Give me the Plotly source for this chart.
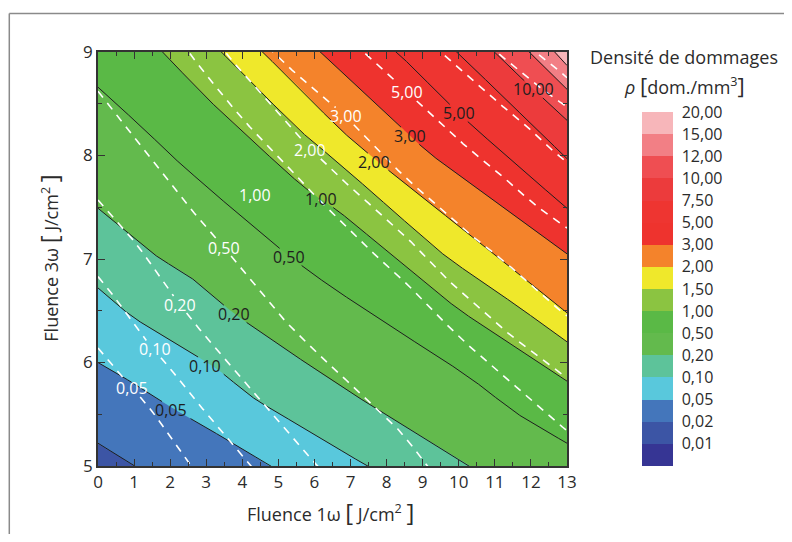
import numpy as np
import plotly.graph_objects as go

# ---------------- data ----------------
LEVELS = [0, 0.01, 0.02, 0.05, 0.1, 0.2, 0.5, 1, 1.5, 2, 3, 5, 7.5, 10, 12, 15, 20]
LEVEL_TEXT = ["0,01", "0,02", "0,05", "0,10", "0,20", "0,50", "1,00", "1,50",
              "2,00", "3,00", "5,00", "7,50", "10,00", "12,00", "15,00", "20,00"]
BAND_COLORS = ["#363594", "#3C55A5", "#4476BB", "#59C8DC", "#5DC39A", "#63BA4D",
               "#5AB946", "#8BC441", "#EFE82B", "#F4832B", "#EE332E", "#EE3531",
               "#EC3B3C", "#EF4E52", "#F27F85", "#F7B6BA"]

# black (solid) iso-density lines: (fluence 1w, fluence 3w) points
BLACK_0_02 = [(0, 5.22), (1.03, 5.0), (13, 2.4)]
BLACK_0_05 = [(0, 6.0), (0.8, 5.84), (1.64, 5.65), (2.5, 5.47), (3.8, 5.21), (4.75, 5.0), (13, 3.3)]
BLACK_0_1 = [(0, 6.72), (0.85, 6.46), (1.77, 6.26), (2.7, 6.07), (3.44, 5.91), (4.17, 5.68),
             (5.1, 5.49), (6.5, 5.2), (7.46, 5.0), (13, 3.9)]
BLACK_0_2 = [(0, 7.49), (1.73, 6.99), (2.47, 6.86), (3.76, 6.47), (4.17, 6.375), (6.5, 5.82),
             (7.64, 5.57), (10.32, 5.0), (13, 4.4)]
BLACK_0_5 = [(0, 8.66), (1.45, 8.2), (2.05, 7.99), (3.67, 7.5), (5.0, 7.11), (5.7, 6.92),
             (6.5, 6.72), (8.2, 6.33), (10.3, 5.86), (11.61, 5.5), (13, 5.22)]
BLACK_1 = [(0, 9.62), (1.8, 9.0), (2.93, 8.58), (4.22, 8.16), (5.8, 7.66), (6.62, 7.48),
           (8.1, 7.05), (9.95, 6.52), (13, 5.82)]
BLACK_1_5 = [(0, 10.2), (3.44, 9.0), (4.5, 8.62), (5.61, 8.23), (6.6, 7.95), (9.6, 7.03),
             (11.61, 6.55), (13, 6.2)]
BLACK_2 = [(0, 10.55), (4.55, 9.0), (5.61, 8.65), (6.6, 8.28), (8.0, 7.87), (10.5, 7.18), (13, 6.48)]
BLACK_3 = [(0, 11.0), (6.16, 9.0), (8.66, 8.19), (9.02, 8.06), (13, 7.05)]
BLACK_5 = [(0, 11.6), (8.29, 9.0), (9.67, 8.52), (10.23, 8.33), (12.0, 7.79), (13, 7.49)]
BLACK_7_5 = [(0, 12.3), (9.95, 9.0), (13, 7.97)]
BLACK_10 = [(0, 12.7), (10.96, 9.0), (12.07, 8.64), (12.35, 8.55), (13, 8.34)]
BLACK_12 = [(0, 13.1), (11.98, 9.0), (13, 8.64)]
BLACK_15 = [(0, 13.8), (12.65, 9.0), (13, 8.87)]
BLACK_LINE_LEVELS = [0.02, 0.05, 0.1, 0.2, 0.5, 1, 1.5, 2, 3, 5, 7.5, 10, 12, 15]

# white (dashed) iso-density lines
DASH_0_05 = [(0, 6.14), (0.94, 5.75), (1.4, 5.59), (2.55, 5.0), (3.0, 4.8)]
DASH_0_1 = [(0, 6.83), (0.66, 6.55), (1.13, 6.29), (1.87, 6.0), (2.97, 5.52), (4.27, 5.0), (4.6, 4.85)]
DASH_0_2 = [(0, 7.57), (1.17, 7.11), (1.68, 6.84), (2.26, 6.56), (2.88, 6.29), (4.55, 5.62),
            (5.47, 5.23), (6.1, 5.0), (6.4, 4.88)]
DASH_0_5 = [(0, 8.62), (0.94, 8.2), (1.54, 7.94), (2.47, 7.52), (3.5, 7.11), (5.19, 6.39),
            (6.53, 5.94), (7.64, 5.59), (8.47, 5.31), (9.12, 5.0), (9.4, 4.88)]
DASH_1 = [(2.3, 9.1), (2.56, 8.97), (3.76, 8.45), (4.5, 8.16), (5.24, 7.91), (5.79, 7.68),
          (6.44, 7.47), (7.55, 7.08), (8.66, 6.73), (9.67, 6.36), (10.5, 6.09), (11.61, 5.76),
          (12.72, 5.42), (13, 5.34)]
DASH_2 = [(3.3, 9.1), (3.53, 8.99), (4.22, 8.71), (4.87, 8.47), (5.42, 8.23), (6.25, 7.94),
          (7.0, 7.69), (7.73, 7.47), (8.66, 7.18), (9.49, 6.86), (11.15, 6.34), (12.72, 5.92), (13, 5.85)]
DASH_3 = [(4.7, 9.05), (4.91, 8.97), (5.65, 8.74), (6.3, 8.55), (6.87, 8.38), (8.29, 7.86),
          (9.02, 7.63), (10.5, 7.18), (11.24, 6.99), (12.35, 6.63), (13, 6.45)]
DASH_5 = [(7.1, 9.08), (7.36, 9.0), (8.19, 8.74), (9.55, 8.29), (10.35, 8.04), (11.15, 7.82),
          (12.17, 7.5), (12.72, 7.37), (13, 7.3)]
DASH_7_5 = [(9.3, 9.06), (9.5, 9.0), (10.23, 8.78), (10.6, 8.65), (11.34, 8.44), (12.07, 8.23),
            (12.44, 8.1), (12.72, 8.0), (13, 7.93)]
DASH_10 = [(10.8, 9.07), (11.05, 9.0), (11.52, 8.87), (11.8, 8.78), (12.53, 8.58), (13, 8.47)]
DASH_12 = [(11.9, 9.06), (12.1, 9.0), (12.53, 8.91), (12.81, 8.81), (13, 8.75)]

# in-plot labels
BLACK_LABEL_TEXT = ["0,05", "0,10", "0,20", "0,50", "1,00", "2,00", "3,00", "5,00", "10,00"]
BLACK_LABEL_X = [2.03, 2.97, 3.78, 5.30, 6.18, 7.64, 8.66, 10.02, 12.07]
BLACK_LABEL_Y = [5.54, 5.97, 6.47, 7.02, 7.58, 7.94, 8.19, 8.41, 8.64]
WHITE_LABEL_TEXT = ["0,05", "0,10", "0,20", "0,50", "1,00", "2,00", "3,00", "5,00"]
WHITE_LABEL_X = [0.94, 1.57, 2.26, 3.50, 4.36, 5.87, 6.87, 8.56]
WHITE_LABEL_Y = [5.75, 6.13, 6.56, 7.11, 7.62, 8.05, 8.38, 8.61]

X_RANGE = [0, 13]
Y_RANGE = [5, 9]

# ---------------- geometry (page pixels; the page body has an 8px margin) ----------------
OFF = 8
W, H = 792 - 2 * OFF, 542 - 2 * OFF
PLOT_L, PLOT_R, PLOT_T, PLOT_B = 97.7, 566.7, 51.5, 465.7      # page pixels
ML, MR = PLOT_L - OFF, W - (PLOT_R - OFF)
MT, MB = PLOT_T - OFF, H - (PLOT_B - OFF)
PW, PH = PLOT_R - PLOT_L, PLOT_B - PLOT_T
SX = PW / (X_RANGE[1] - X_RANGE[0])
SY = PH / (Y_RANGE[1] - Y_RANGE[0])


def pxx(px):  # page pixel x -> paper
    return (px - PLOT_L) / PW


def pxy(py):  # page pixel y -> paper
    return (PLOT_B - py) / PH


BLACK_LINES = [BLACK_0_02, BLACK_0_05, BLACK_0_1, BLACK_0_2, BLACK_0_5, BLACK_1, BLACK_1_5,
               BLACK_2, BLACK_3, BLACK_5, BLACK_7_5, BLACK_10, BLACK_12, BLACK_15]
DASH_LINES = [DASH_0_05, DASH_0_1, DASH_0_2, DASH_0_5, DASH_1, DASH_2, DASH_3, DASH_5,
              DASH_7_5, DASH_10, DASH_12]

STEP = 0.005
SIGMA = 0.28


def smooth_curve(line):
    """Polyline through the read points, with its corners rounded (gaussian in x)."""
    lx = np.array([p[0] for p in line], float)
    ly = np.array([p[1] for p in line], float)
    xs = np.arange(lx[0], lx[-1] + 1e-9, STEP)
    pad = int(4 * SIGMA / STEP)
    xe = np.concatenate([xs[0] - STEP * np.arange(pad, 0, -1), xs, xs[-1] + STEP * np.arange(1, pad + 1)])
    ye = np.interp(xe, lx, ly)
    s0 = (ly[1] - ly[0]) / (lx[1] - lx[0])
    s1 = (ly[-1] - ly[-2]) / (lx[-1] - lx[-2])
    ye = np.where(xe < lx[0], ly[0] + s0 * (xe - lx[0]), ye)
    ye = np.where(xe > lx[-1], ly[-1] + s1 * (xe - lx[-1]), ye)
    k = np.arange(-pad, pad + 1) * STEP
    ker = np.exp(-0.5 * (k / SIGMA) ** 2)
    ker /= ker.sum()
    ys = np.convolve(ye, ker, mode="same")[pad:pad + len(xs)]
    return xs, ys


BLACK_CURVES = [smooth_curve(ln) for ln in BLACK_LINES]
DASH_CURVES = [smooth_curve(ln) for ln in DASH_LINES]

# ordinal level field (index in LEVELS) built from the read iso-lines
xg = np.linspace(0, 13, 261)
yg = np.linspace(5, 9, 401)
idx = [LEVELS.index(v) for v in BLACK_LINE_LEVELS]
cols = [np.interp(xg, cx, cy) for cx, cy in BLACK_CURVES]
Z = np.empty((len(yg), len(xg)))
for j in range(len(xg)):
    ys = [-100.0] + [float(c[j]) for c in cols] + [100.0]
    ks = [0.0] + [float(k) for k in idx] + [16.0]
    Z[:, j] = np.interp(yg, ys, ks)
Z = np.round(Z, 4)

LABEL_SIZE = 16


def with_gaps(curve, lab_x, lab_y, lab_t):
    xs, ys = curve
    keep = np.ones(len(xs), dtype=bool)
    for lx, ly, lt in zip(lab_x, lab_y, lab_t):
        hw = 0.27 * LABEL_SIZE * len(lt) + 2
        hh = 8.5
        keep &= ~((np.abs((xs - lx) * SX) < hw) & (np.abs((ys - ly) * SY) < hh))
    X = [round(float(a), 4) if k else None for a, k in zip(xs, keep)]
    Y = [round(float(b), 4) if k else None for b, k in zip(ys, keep)]
    return X, Y


FONT = "'Open Sans', 'Noto Sans', sans-serif"
TXT = "#2b2b2b"
fig = go.Figure()

fig.add_trace(go.Contour(
    x=xg, y=yg, z=Z,
    contours=dict(start=1, end=15, size=1, coloring="fill", showlines=False),
    line=dict(width=0),
    colorscale=[[i / 15, c] for i, c in enumerate(BAND_COLORS)],
    hoverinfo="skip", showscale=False,
))

for cv in BLACK_CURVES:
    X, Y = with_gaps(cv, BLACK_LABEL_X, BLACK_LABEL_Y, BLACK_LABEL_TEXT)
    fig.add_trace(go.Scatter(x=X, y=Y, mode="lines", line=dict(color="#1e1e1e", width=1),
                             hoverinfo="skip", showlegend=False))

for cv in DASH_CURVES:
    X, Y = with_gaps(cv, WHITE_LABEL_X, WHITE_LABEL_Y, WHITE_LABEL_TEXT)
    fig.add_trace(go.Scatter(x=X, y=Y, mode="lines",
                             line=dict(color="white", width=1.6, dash="8px,7px"),
                             hoverinfo="skip", showlegend=False))

# discrete colour key (16 equal bands, label at the top of each band)
n = len(BAND_COLORS)
stepped = []
for i, c in enumerate(BAND_COLORS):
    stepped += [[i / n, c], [(i + 1) / n, c]]
fig.add_trace(go.Scatter(
    x=[X_RANGE[0], X_RANGE[0]], y=[Y_RANGE[0], Y_RANGE[0]], mode="markers",
    marker=dict(size=0, opacity=0, color=[0, n], cmin=0, cmax=n, colorscale=stepped,
                showscale=True,
                colorbar=dict(
                    thickness=31, thicknessmode="pixels",
                    len=354, lenmode="pixels",
                    x=pxx(641.7), xanchor="left", xpad=0,
                    y=0, yanchor="bottom", ypad=0,
                    outlinewidth=0,
                    tickmode="array", tickvals=list(range(1, n + 1)), ticktext=LEVEL_TEXT,
                    ticks="outside", ticklen=6, tickcolor="rgba(0,0,0,0)",
                    tickfont=dict(family=FONT, size=16, color=TXT),
                )),
    hoverinfo="skip", showlegend=False,
))

annotations = []
for t, x, y in zip(BLACK_LABEL_TEXT, BLACK_LABEL_X, BLACK_LABEL_Y):
    annotations.append(dict(x=x, y=y, xref="x", yref="y", text=t, showarrow=False,
                            xanchor="center", yanchor="middle",
                            font=dict(family=FONT, size=LABEL_SIZE, color="#1e1e1e")))
for t, x, y in zip(WHITE_LABEL_TEXT, WHITE_LABEL_X, WHITE_LABEL_Y):
    annotations.append(dict(x=x, y=y, xref="x", yref="y", text=t, showarrow=False,
                            xanchor="center", yanchor="middle",
                            font=dict(family=FONT, size=LABEL_SIZE, color="white")))

BR = "<span style='font-size:24px'>%s</span>"
BR2 = "<span style='font-size:22px'>%s</span>"
UNIT = BR % "[" + " J/cm<sup>2</sup> " + BR % "]"
annotations += [
    dict(x=pxx(330), y=pxy(511), xref="paper", yref="paper", xanchor="center", yanchor="middle",
         text="Fluence 1ω " + UNIT, showarrow=False, font=dict(family=FONT, size=18, color=TXT)),
    dict(x=pxx(48), y=pxy(258), xref="paper", yref="paper", xanchor="center", yanchor="middle",
         text="Fluence 3ω " + UNIT, textangle=-90,
         showarrow=False, font=dict(family=FONT, size=18, color=TXT)),
    dict(x=pxx(684), y=pxy(57), xref="paper", yref="paper", xanchor="center", yanchor="middle",
         text="Densité de dommages", showarrow=False,
         font=dict(family=FONT, size=18, color=TXT)),
    dict(x=pxx(684), y=pxy(85), xref="paper", yref="paper", xanchor="center", yanchor="middle",
         text="<i>ρ</i> " + BR2 % "[" + "dom./mm<sup>3</sup>" + BR2 % "]", showarrow=False,
         font=dict(family=FONT, size=18, color=TXT)),
]

shapes = [
    dict(type="line", xref="paper", yref="paper",
         x0=pxx(9), x1=pxx(800), y0=pxy(13), y1=pxy(13),
         line=dict(color="#8a8a8a", width=1.5)),
    dict(type="line", xref="paper", yref="paper",
         x0=pxx(9), x1=pxx(9), y0=pxy(13), y1=pxy(560),
         line=dict(color="#8a8a8a", width=1.5)),
]

axis_common = dict(
    ticks="inside", ticklen=7, tickwidth=1.2, tickcolor="#333",
    showline=True, linecolor="#333", linewidth=1.5, mirror="ticks",
    showgrid=False, zeroline=False,
    tickfont=dict(family=FONT, size=17, color=TXT),
    minor=dict(ticks="inside", ticklen=4, tickwidth=1, tickcolor="#333", showgrid=False),
)

fig.update_layout(
    width=W, height=H,
    margin=dict(l=ML, r=MR, t=MT, b=MB, pad=0, autoexpand=False),
    paper_bgcolor="white", plot_bgcolor="white",
    showlegend=False,
    xaxis=dict(range=X_RANGE, dtick=1, tick0=0, **axis_common),
    yaxis=dict(range=Y_RANGE, dtick=1, tick0=5, **axis_common),
    annotations=annotations,
    shapes=shapes,
    font=dict(family=FONT),
)
fig.update_xaxes(minor_dtick=0.5)
fig.update_yaxes(minor_dtick=0.5)

fig.write_html("out.html")
